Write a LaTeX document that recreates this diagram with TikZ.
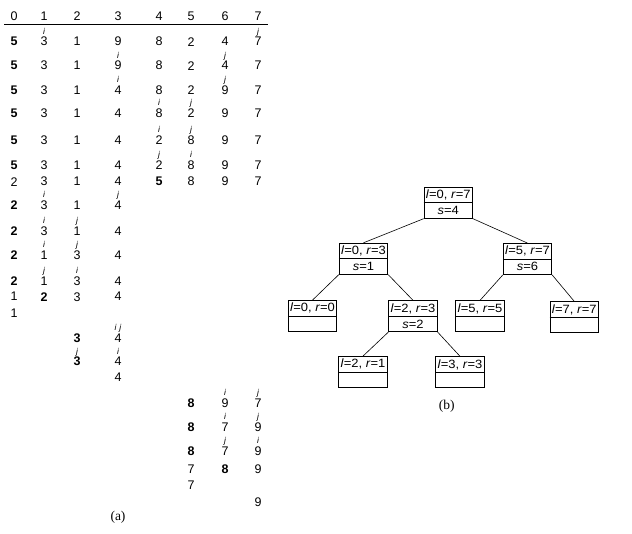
\documentclass[tikz,border=0pt]{standalone}
\usepackage{fontspec}
\setmainfont{Liberation Sans}
\newfontfamily\capserif{Liberation Serif}
\newfontfamily\treefont[FakeStretch=1.08]{Liberation Sans}
\newcommand\arow[3]{%
  \foreach \c/\d/\s in {#3}{%
    \pgfmathsetmacro\xx{{14,44,77,118,159,191,225,258}[\c]}%
    \node[dig,\s] (n#1-\c) at (\xx,#2) {\d};
  }}
\newcommand\lab[3]{%
  \pgfmathsetmacro\xx{{14,44,77,118,159,191,225,258}[#1]}%
  \node[labtxt] at (\xx,#2-7.5) {#3};}
\newcommand\tnode[5]{%
  \node[tbox] (#1) at (#2,#3) {};
  \draw[midline] (#1.west) -- (#1.east);
  \node[ttext] (#1-top) at ([yshift=7.75pt]#1.center) {#4};
  \node[ttext] (#1-bot) at ([yshift=-7.75pt]#1.center) {#5};}
\begin{document}
\begin{tikzpicture}[x=1pt,y=-1pt,
  dig/.style={font=\fontsize{12.5}{14}\selectfont, inner sep=0pt, anchor=center},
  bd/.style={font=\fontsize{12.5}{14}\selectfont\bfseries},
  nm/.style={},
  labtxt/.style={font=\fontsize{8.5}{9}\selectfont\itshape, inner sep=0pt, anchor=base},
  tbox/.style={draw, line width=0.8pt, minimum width=48.5pt, minimum height=31pt, inner sep=0pt},
  midline/.style={line width=0.6pt},
  ttext/.style={font=\treefont\fontsize{12}{13}\selectfont, inner sep=0pt, anchor=center},
  conn/.style={line width=0.6pt},
  captxt/.style={font=\capserif\fontsize{13.5}{14}\selectfont, inner sep=0pt}]
\useasboundingbox (0,0) rectangle (632,534);
% header
\arow{0}{16}{0/0/nm,1/1/nm,2/2/nm,3/3/nm,4/4/nm,5/5/nm,6/6/nm,7/7/nm}
\coordinate (hl) at (4,24.5);
\coordinate (hr) at (268,24.5);
\draw[line width=0.9pt] (hl) -- (hr);
% rows
\arow{1}{41.7}{0/5/bd,1/3/nm,2/1/nm,3/9/nm,4/8/nm,5/2/nm,6/4/nm,7/7/nm}
\lab{1}{41.7}{i}\lab{7}{41.7}{j}
\arow{2}{65.7}{0/5/bd,1/3/nm,2/1/nm,3/9/nm,4/8/nm,5/2/nm,6/4/nm,7/7/nm}
\lab{3}{65.7}{i}\lab{6}{65.7}{j}
\arow{3}{90}{0/5/bd,1/3/nm,2/1/nm,3/4/nm,4/8/nm,5/2/nm,6/9/nm,7/7/nm}
\lab{3}{90}{i}\lab{6}{90}{j}
\arow{4}{113.5}{0/5/bd,1/3/nm,2/1/nm,3/4/nm,4/8/nm,5/2/nm,6/9/nm,7/7/nm}
\lab{4}{113.5}{i}\lab{5}{113.5}{j}
\arow{5}{140}{0/5/bd,1/3/nm,2/1/nm,3/4/nm,4/2/nm,5/8/nm,6/9/nm,7/7/nm}
\lab{4}{140}{i}\lab{5}{140}{j}
\arow{6}{165}{0/5/bd,1/3/nm,2/1/nm,3/4/nm,4/2/nm,5/8/nm,6/9/nm,7/7/nm}
\lab{4}{165}{j}\lab{5}{165}{i}
\arow{7}{181.7}{0/2/nm,1/3/nm,2/1/nm,3/4/nm,4/5/bd,5/8/nm,6/9/nm,7/7/nm}
\arow{8}{205}{0/2/bd,1/3/nm,2/1/nm,3/4/nm}
\lab{1}{205}{i}\lab{3}{205}{j}
\arow{9}{231}{0/2/bd,1/3/nm,2/1/nm,3/4/nm}
\lab{1}{231}{i}\lab{2}{231}{j}
\arow{10}{255.5}{0/2/bd,1/1/nm,2/3/nm,3/4/nm}
\lab{1}{255.5}{i}\lab{2}{255.5}{j}
\arow{11}{281}{0/2/bd,1/1/nm,2/3/nm,3/4/nm}
\lab{1}{281}{j}\lab{2}{281}{i}
\arow{12}{296.7}{0/1/nm,1/2/bd,2/3/nm,3/4/nm}
\arow{13}{313}{0/1/nm}
\arow{14}{338}{2/3/bd,3/4/nm}
\lab{3}{338}{i\,\,j}
\arow{15}{361.7}{2/3/bd,3/4/nm}
\lab{2}{361.7}{j}\lab{3}{361.7}{i}
\arow{16}{377}{3/4/nm}
\arow{17}{403}{5/8/bd,6/9/nm,7/7/nm}
\lab{6}{403}{i}\lab{7}{403}{j}
\arow{18}{427}{5/8/bd,6/7/nm,7/9/nm}
\lab{6}{427}{i}\lab{7}{427}{j}
\arow{19}{451}{5/8/bd,6/7/nm,7/9/nm}
\lab{6}{451}{j}\lab{7}{451}{i}
\arow{20}{469}{5/7/nm,6/8/bd,7/9/nm}
\arow{21}{485}{5/7/nm}
\arow{22}{502}{7/9/nm}
\node[captxt] (capa) at (118,517) {(a)};
% tree
\tnode{R}{448.3}{202.8}{\textit{l}=0, \textit{r}=7}{\textit{s}=4}
\tnode{A}{363.5}{258.7}{\textit{l}=0, \textit{r}=3}{\textit{s}=1}
\tnode{B}{527.5}{259}{\textit{l}=5, \textit{r}=7}{\textit{s}=6}
\tnode{C}{312.5}{316}{\textit{l}=0, \textit{r}=0}{}
\tnode{D}{413}{316.2}{\textit{l}=2, \textit{r}=3}{\textit{s}=2}
\tnode{E}{480}{316.3}{\textit{l}=5, \textit{r}=5}{}
\tnode{F}{574.3}{317.3}{\textit{l}=7, \textit{r}=7}{}
\tnode{G}{363}{372}{\textit{l}=2, \textit{r}=1}{}
\tnode{H}{460}{372.2}{\textit{l}=3, \textit{r}=3}{}
\draw[conn] (R.south west) -- (A.north);
\draw[conn] (R.south east) -- (B.north);
\draw[conn] (A.south west) -- (C.north);
\draw[conn] (A.south east) -- (D.north);
\draw[conn] (B.south west) -- (E.north);
\draw[conn] (B.south east) -- (F.north);
\draw[conn] (D.south west) -- (G.north);
\draw[conn] (D.south east) -- (H.north);
\node[captxt] (capb) at (446.7,406.7) {(b)};
\end{tikzpicture}
\end{document}
